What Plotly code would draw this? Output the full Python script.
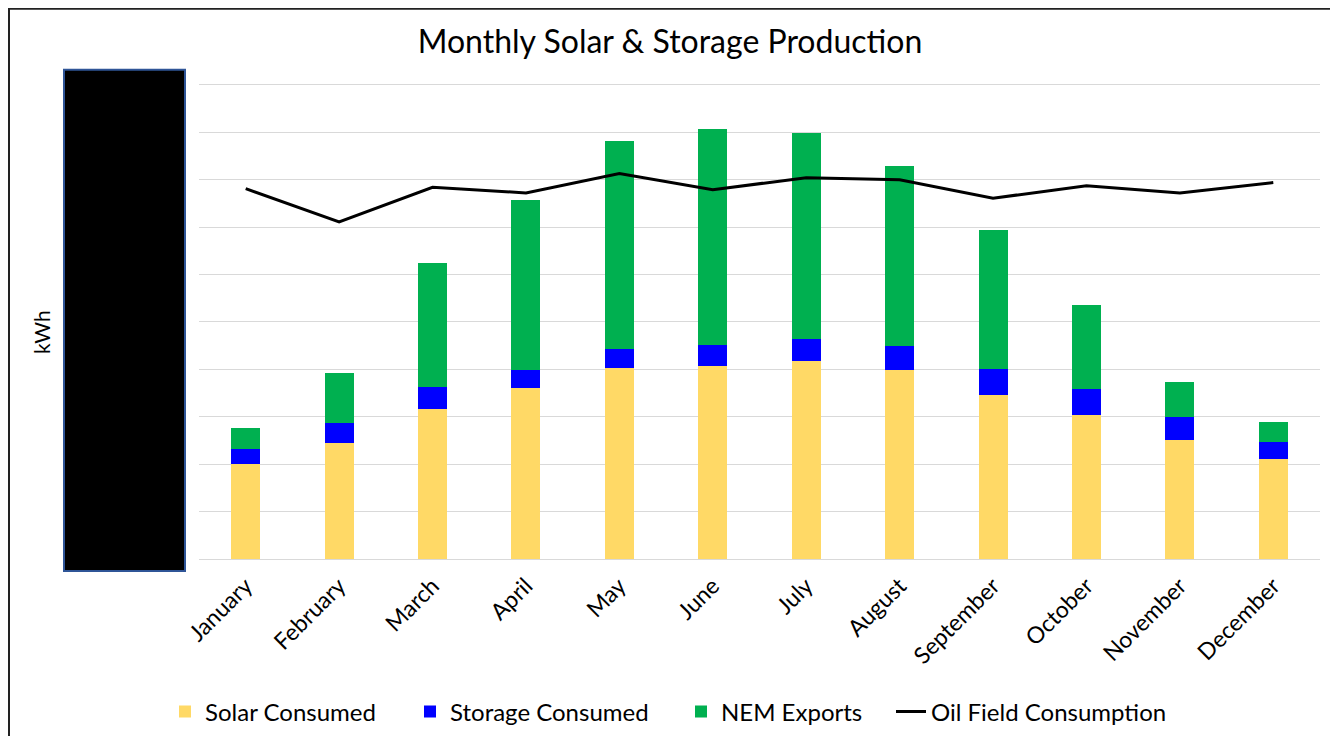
import plotly.graph_objects as go

months = ["January", "February", "March", "April", "May", "June", "July",
          "August", "September", "October", "November", "December"]
solar_consumed = [2.01, 2.45, 3.16, 3.60, 4.02, 4.07, 4.17, 3.99, 3.45, 3.04, 2.51, 2.10]
storage_consumed = [0.32, 0.42, 0.46, 0.39, 0.41, 0.44, 0.46, 0.50, 0.56, 0.54, 0.48, 0.36]
nem_exports = [0.43, 1.05, 2.62, 3.59, 4.39, 4.55, 4.36, 3.79, 2.93, 1.77, 0.74, 0.42]
oil_field_consumption = [7.81, 7.11, 7.84, 7.72, 8.13, 7.79, 8.04, 8.00, 7.61, 7.87, 7.72, 7.94]

OFF = 8  # page body margin
W, H = 1330, 728
YTOP = 10        # value of the top gridline
YMAX = 10.06     # small headroom so the top gridline is drawn
# plot area in page pixels (value 0 at PY1, value YTOP at PY_TOP)
PX0, PX1, PY_TOP, PY1 = 199, 1320, 85, 559
unit = (PY1 - PY_TOP) / YTOP
PY0 = PY1 - YMAX * unit
L, R = PX0 - OFF, W - (PX1 - OFF)
T, B = PY0 - OFF, H - (PY1 - OFF)
pw, ph = W - L - R, H - T - B

def px(p):  # page x -> paper
    return (p - PX0) / pw

def py(q):  # page y -> paper
    return (PY1 - q) / ph

def cx(p):  # page x -> container fraction
    return (p - OFF) / W

def cy(q):  # page y -> container fraction
    return 1 - (q - OFF) / H

FONT = "Lato, 'Open Sans', sans-serif"
LEG_FONT = dict(size=24, family=FONT, color="black")

fig = go.Figure()
fig.add_trace(go.Bar(name="Solar Consumed", x=months, y=solar_consumed, legend="legend",
                     marker=dict(color="#FFD966", line=dict(width=0))))
fig.add_trace(go.Bar(name="Storage Consumed", x=months, y=storage_consumed, legend="legend2",
                     marker=dict(color="#0000FF", line=dict(width=0))))
fig.add_trace(go.Bar(name="NEM Exports", x=months, y=nem_exports, legend="legend3",
                     marker=dict(color="#00B050", line=dict(width=0))))
fig.add_trace(go.Scatter(name="Oil Field Consumption", x=months, y=oil_field_consumption,
                         legend="legend4", mode="lines", line=dict(color="black", width=3)))

text_starts = [207, 452, 723, 933]
legends = {}
for i, ts in enumerate(text_starts):
    key = "legend" if i == 0 else f"legend{i + 1}"
    legends[key] = dict(orientation="h", xref="container", yref="container",
                        x=cx(ts - 42), xanchor="left", y=cy(712), yanchor="middle",
                        font=LEG_FONT, bgcolor="rgba(0,0,0,0)", borderwidth=0)

fig.update_layout(
    width=W, height=H,
    margin=dict(l=L, r=R, t=T, b=B),
    barmode="stack", bargap=0.69,
    plot_bgcolor="white", paper_bgcolor="white",
    font=dict(family=FONT, color="black"),
    title=dict(text="Monthly Solar & Storage Production", x=cx(670), xref="container",
               xanchor="center", y=cy(42), yref="container", yanchor="middle",
               font=dict(size=32, family=FONT, color="black")),
    xaxis=dict(tickangle=-45, tickfont=dict(size=23, family=FONT, color="black"),
               ticklabelstandoff=8,
               showline=False, showgrid=False, ticks=""),
    yaxis=dict(range=[0, YMAX], dtick=1, showticklabels=False, showgrid=True,
               gridcolor="#D9D9D9", gridwidth=1, zeroline=True, zerolinecolor="#D9D9D9",
               zerolinewidth=1, showline=False, ticks=""),
    showlegend=True,
    **legends,
)

fig.add_annotation(text="kWh", x=px(42), y=py(332), xref="paper", yref="paper",
                   xanchor="center", yanchor="middle",
                   textangle=-90, showarrow=False, font=dict(size=21, family=FONT, color="black"))

# outer chart border
fig.add_shape(type="rect", xref="paper", yref="paper", x0=px(9), x1=px(1332), y0=py(780), y1=py(9),
              line=dict(color="#222222", width=2), fillcolor="rgba(0,0,0,0)", layer="below")
# redaction box over the y-axis labels
fig.add_shape(type="rect", xref="paper", yref="paper", x0=px(64), x1=px(185), y0=py(571), y1=py(70),
              line=dict(color="#2F5597", width=2), fillcolor="black", layer="above")

fig.write_html("out.html")
